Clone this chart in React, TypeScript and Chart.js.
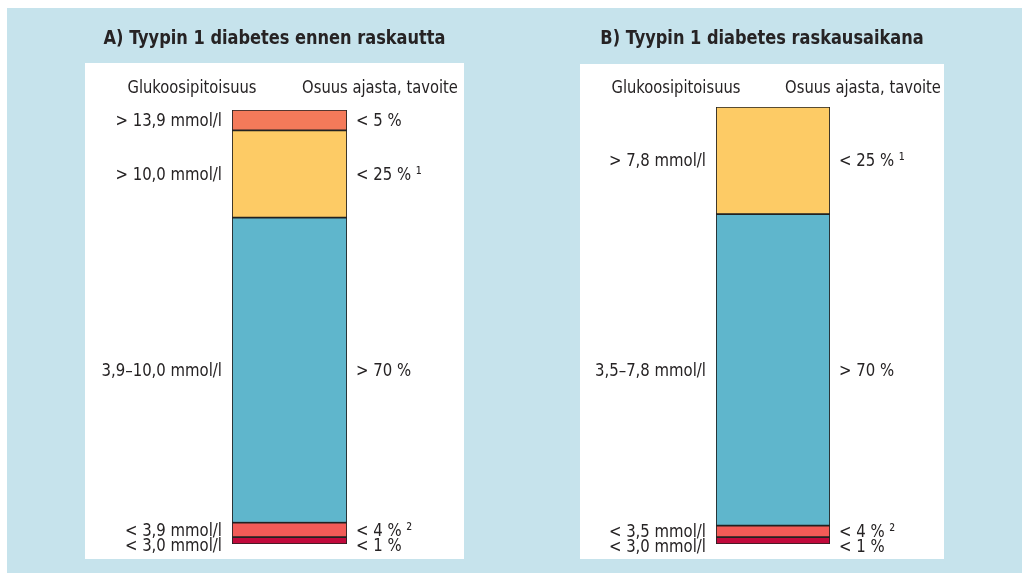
import React, { useEffect, useRef } from "react";
import { Chart, registerables } from "chart.js";

Chart.register(...registerables);

// ---- data (bottom segment first) ----
const titleA = "A) Tyypin 1 diabetes ennen raskautta";
const titleB = "B) Tyypin 1 diabetes raskausaikana";
const headerLeft = "Glukoosipitoisuus";
const headerRight = "Osuus ajasta, tavoite";

const valuesA = [1.6, 3.3, 70.3, 20.1, 4.7];
const leftLabelsA = ["< 3,0 mmol/l", "< 3,9 mmol/l", "3,9–10,0 mmol/l", "> 10,0 mmol/l", "> 13,9 mmol/l"];
const rightLabelsA = ["< 1 %", "< 4 % ²", "> 70 %", "< 25 % ¹", "< 5 %"];
const colorsA = ["#c1093b", "#f25b57", "#5fb6cc", "#fdcb65", "#f47a5a"];

const valuesB = [1.6, 2.6, 71.3, 24.5];
const leftLabelsB = ["< 3,0 mmol/l", "< 3,5 mmol/l", "3,5–7,8 mmol/l", "> 7,8 mmol/l"];
const rightLabelsB = ["< 1 %", "< 4 % ²", "> 70 %", "< 25 % ¹"];
const colorsB = ["#c1093b", "#f25b57", "#5fb6cc", "#fdcb65"];

const FONT = '"Liberation Sans Narrow", "DejaVu Sans Condensed", sans-serif';
const TEXT = "#262324";
const MARGIN = 45;

function drawText(ctx: CanvasRenderingContext2D, text: string, x: number, y: number, align: CanvasTextAlign, sx: number) {
  ctx.save();
  ctx.translate(x, y);
  ctx.scale(sx, 1);
  ctx.textAlign = align;
  ctx.fillText(text, 0, 0);
  ctx.restore();
}

type PanelProps = {
  title: string;
  values: number[];
  leftLabels: string[];
  rightLabels: string[];
  colors: string[];
  left: number;
  width: number;
  panelTop: number;
  barLeft: number;
  barRight: number;
  barTop: number;
};

function Panel(p: PanelProps) {
  const ref = useRef<HTMLCanvasElement | null>(null);
  const canvasTop = 8;
  const canvasHeight = 551;
  const barBottom = 544;
  const cLeft = p.left - MARGIN;
  const cWidth = p.width + 2 * MARGIN;

  useEffect(() => {
    if (!ref.current) return;
    const total = p.values.reduce((a, b) => a + b, 0);
    const labelPlugin = {
      id: "segLabels",
      beforeDraw(chart: any) {
        const ctx = chart.ctx;
        ctx.save();
        ctx.fillStyle = "#ffffff";
        ctx.fillRect(MARGIN, p.panelTop - canvasTop, p.width, 559 - p.panelTop);
        ctx.restore();
      },
      afterDraw(chart: any) {
        const ctx = chart.ctx;
        const yScale = chart.scales.y;
        const area = chart.chartArea;
        ctx.save();
        ctx.fillStyle = TEXT;
        ctx.textBaseline = "middle";
        // title
        ctx.font = `bold 20px ${FONT}`;
        drawText(ctx, p.title, MARGIN + p.width / 2, 31, "center", 0.9);
        // headers
        ctx.font = `18px ${FONT}`;
        const headY = 80;
        drawText(ctx, headerLeft, area.left - 40, headY, "center", 0.91);
        drawText(ctx, headerRight, area.right + 33, headY, "center", 0.91);
        // segment labels, top to bottom
        const mids: number[] = [];
        let c = 0;
        p.values.forEach((v) => {
          mids.push(c + v / 2);
          c += v;
        });
        let prev = -Infinity;
        const lineH = 15;
        for (let i = p.values.length - 1; i >= 0; i--) {
          let y = yScale.getPixelForValue(mids[i]);
          if (y < prev + lineH) y = prev + lineH;
          prev = y;
          drawText(ctx, p.leftLabels[i], area.left - 10, y + 1, "right", 0.92);
          drawText(ctx, p.rightLabels[i], area.right + 9, y + 1, "left", 0.92);
        }
        ctx.restore();
      },
    };

    const chart = new Chart(ref.current, {
      type: "bar",
      data: {
        labels: [""],
        datasets: p.values.map((v, i) => ({
          label: p.leftLabels[i],
          data: [v],
          backgroundColor: p.colors[i],
          borderColor: "#222222",
          borderWidth: 1.2,
          borderSkipped: false,
          barPercentage: 1,
          categoryPercentage: 1,
        })),
      },
      options: {
        responsive: false,
        animation: false,
        layout: {
          padding: {
            left: p.barLeft - cLeft,
            right: cLeft + cWidth - p.barRight,
            top: p.barTop - canvasTop,
            bottom: canvasTop + canvasHeight - barBottom,
          },
        },
        plugins: { legend: { display: false }, tooltip: { enabled: false }, title: { display: false } },
        scales: {
          x: { stacked: true, display: false },
          y: { stacked: true, display: false, min: 0, max: total },
        },
      },
      plugins: [labelPlugin],
    });
    return () => chart.destroy();
  }, []);

  return (
    <canvas
      ref={ref}
      width={cWidth}
      height={canvasHeight}
      style={{ position: "absolute", left: cLeft - 7, top: canvasTop - 8, width: cWidth, height: canvasHeight }}
    />
  );
}

export default function App() {
  return (
    <div
      style={{
        position: "absolute",
        left: 7,
        top: 8,
        width: 1015,
        height: 565,
        background: "#c6e3ec",
        overflow: "hidden",
      }}
    >
      <Panel
        title={titleA}
        values={valuesA}
        leftLabels={leftLabelsA}
        rightLabels={rightLabelsA}
        colors={colorsA}
        left={85}
        width={379}
        panelTop={63}
        barLeft={232}
        barRight={347}
        barTop={110}
      />
      <Panel
        title={titleB}
        values={valuesB}
        leftLabels={leftLabelsB}
        rightLabels={rightLabelsB}
        colors={colorsB}
        left={580}
        width={364}
        panelTop={64}
        barLeft={716}
        barRight={830}
        barTop={107}
      />
    </div>
  );
}
